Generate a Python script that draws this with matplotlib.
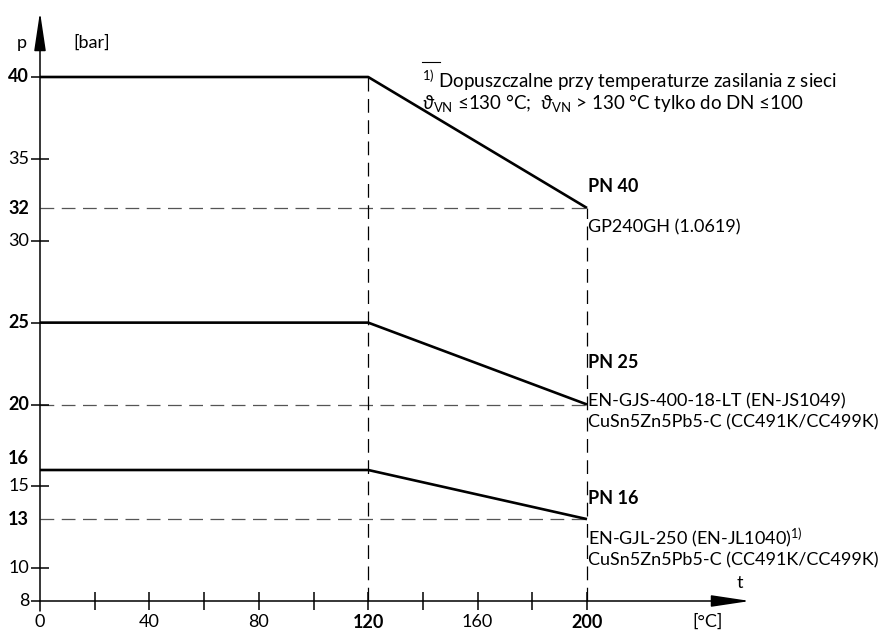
import matplotlib
matplotlib.use("Agg")
import matplotlib.pyplot as plt

plt.rcParams['font.family'] = ['Lato', 'DejaVu Sans']
plt.rcParams['mathtext.fontset'] = 'custom'
plt.rcParams['mathtext.rm'] = 'Lato'
plt.rcParams['mathtext.it'] = 'Lato:italic'
plt.rcParams['mathtext.bf'] = 'Lato:bold'

# pressure ratings: temperature breakpoints and allowed pressure
temps = [0, 120, 200]
pn40 = [40, 40, 32]
pn25 = [25, 25, 20]
pn16 = [16, 16, 13]

x_ticks = [0, 20, 40, 60, 80, 100, 120, 140, 160, 180, 200]
x_labels = {0: '0', 40: '40', 80: '80', 120: '120', 160: '160', 200: '200'}
x_bold = [120, 200]

y_cross = [10, 15, 20, 30, 35]
y_left = [8, 25, 40]
y_labels = [8, 10, 13, 15, 16, 20, 25, 30, 32, 35, 40]
y_bold = [13, 16, 20, 25, 32, 40]

fig = plt.figure(figsize=(8.88, 6.35), dpi=100)
ax = fig.add_axes([0, 0, 1, 1])
# 0 degC at px 40, 200 degC at px 587; 8 bar at py 601, 40 bar at py 77
sx = 547 / 200.0
sy = 524 / 32.0
ax.set_xlim(-40 / sx, (888 - 40) / sx)
ax.set_ylim(8 - 34 / sy, 8 + 601 / sy)
ax.axis('off')

# dashed guide lines
dash = dict(color='#555555', lw=0.9, dashes=(11, 6))
for v in [pn40[-1], pn25[-1], pn16[-1]]:
    ax.plot([0, temps[-1]], [v, v], **dash)
ax.plot([temps[1], temps[1]], [8, pn40[1]], color='black', lw=0.9, dashes=(11, 6))
ax.plot([temps[2], temps[2]], [8, pn40[2]], color='black', lw=0.9, dashes=(11, 6))

# rating curves
for s in [pn40, pn25, pn16]:
    ax.plot(temps, s, color='black', lw=1.9, solid_capstyle='butt')

# axes with arrows
arr = dict(arrowstyle='-|>,head_length=2.4,head_width=0.36', color='black',
           lw=1.1, mutation_scale=10, shrinkA=0, shrinkB=0)
ax.annotate('', xy=(0, 8 + 589 / sy), xytext=(0, 8 - 10 / sy), arrowprops=arr)
ax.annotate('', xy=(710 / sx, 8), xytext=(0, 8), arrowprops=arr)

# ticks
ax.plot(x_ticks[1:], [8] * (len(x_ticks) - 1), ls='none', marker='|',
        ms=13, mew=1.1, color='black')
ax.plot([0] * len(y_cross), y_cross, ls='none', marker='_', ms=12.5,
        mew=1.1, color='black')
ax.plot([0] * len(y_left), y_left, ls='none', marker=0, ms=6.5,
        mew=1.1, color='black')

fs = 13
for x, lab in x_labels.items():
    ax.annotate(lab, (x, 8), xytext=(0, -21), textcoords='offset pixels',
                ha='center', va='center', fontsize=fs,
                fontweight='bold' if x in x_bold else 'normal')
for y in y_labels:
    dy = 11 if y == 16 else 0
    ax.annotate(str(y), (0, y), xytext=(-11, dy), textcoords='offset pixels',
                ha='right', va='center', fontsize=fs,
                fontweight='bold' if y in y_bold else 'normal')

# axis titles
ax.annotate('p', (0, 8 + 558 / sy), xytext=(-18, 0), textcoords='offset pixels',
            ha='center', va='center', fontsize=fs)
ax.annotate('[bar]', (0, 8 + 558 / sy), xytext=(52, 0), textcoords='offset pixels',
            ha='center', va='center', fontsize=fs)
ax.annotate('t', (temps[-1], 8), xytext=(153, 18), textcoords='offset pixels',
            ha='center', va='center', fontsize=fs)
ax.annotate('[°C]', (temps[-1], 8), xytext=(121, -21), textcoords='offset pixels',
            ha='center', va='center', fontsize=fs)

# series labels
notes = [
    (pn40[-1], [('PN 40', 21, 'bold'), ('GP240GH (1.0619)', -19, 'normal')]),
    (pn25[-1], [('PN 25', 42, 'bold'), ('EN-GJS-400-18-LT (EN-JS1049)', 3, 'normal'),
                ('CuSn5Zn5Pb5-C (CC491K/CC499K)', -18, 'normal')]),
    (pn16[-1], [('PN 16', 21, 'bold'), ('EN-GJL-250 (EN-JL1040)$^{\\rm 1)}$', -19, 'normal'),
                ('CuSn5Zn5Pb5-C (CC491K/CC499K)', -41, 'normal')]),
]
for y, rows in notes:
    for txt, dy, w in rows:
        ax.annotate(txt, (temps[-1], y), xytext=(1, dy), textcoords='offset pixels',
                    ha='left', va='center', fontsize=fs, fontweight=w)

# footnote
fx = (422 - 40) / sx
ax.plot([fx, fx + 18 / sx], [8 + (601 - 62) / sy] * 2, color='black', lw=0.8)
ax.text(fx, 8 + (601 - 80) / sy,
        '$^{\\rm 1)}$ Dopuszczalne przy temperaturze zasilania z sieci',
        ha='left', va='center', fontsize=13.5)
ax.text(fx, 8 + (601 - 103) / sy,
        '$\\vartheta_{\\rm VN}$ ≤130 °C;  $\\vartheta_{\\rm VN}$ > 130 °C tylko do DN ≤100',
        ha='left', va='center', fontsize=13.5)

fig.savefig('out.png', dpi=100)
